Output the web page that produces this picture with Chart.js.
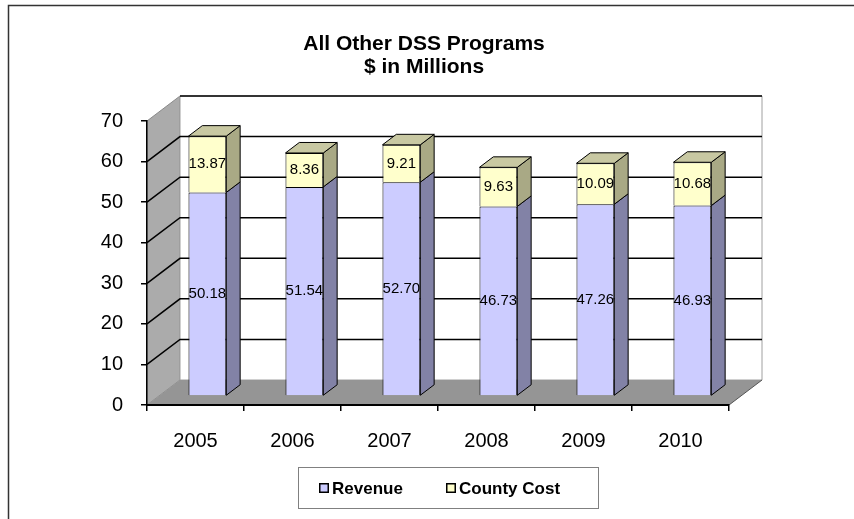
<!DOCTYPE html>
<html>
<head>
<meta charset="utf-8">
<script src="https://cdn.jsdelivr.net/npm/chart.js@4/dist/chart.umd.min.js"></script>
<style>
  html, body { margin: 0; padding: 0; background: #fff; }
  #wrap { width: 854px; height: 519px; }
</style>
</head>
<body>
<div id="wrap"><canvas id="c" width="854" height="519"></canvas></div>
<script>
// Data ($ in millions)
const years = ['2005', '2006', '2007', '2008', '2009', '2010'];
const revenue = [50.18, 51.54, 52.70, 46.73, 47.26, 46.93];
const countyCost = [13.87, 8.36, 9.21, 9.63, 10.09, 10.68];
const seriesNames = ['Revenue', 'County Cost'];
const yTicks = { min: 0, max: 70, step: 10 };

// Colours for the faces of the 3D columns
const frontColors = ['#CCCCFF', '#FFFFCC'];
const sideColors = ['#8282A6', '#A9A985'];
const topColor = '#C8C8A2';

// Depth of the 3D box (offset of the back wall from the front plane)
const DX = 33, DY = -25;
// Where the columns sit within that depth (fractions)
const BAR_FRONT = 0.36, BAR_BACK = 0.78;
const FX = DX * BAR_FRONT, FY = DY * BAR_FRONT;
const BX = DX * (BAR_BACK - BAR_FRONT), BY = DY * (BAR_BACK - BAR_FRONT);

const FONT = '"Liberation Sans", Arial, sans-serif';

function poly(ctx, pts) {
  ctx.beginPath();
  ctx.moveTo(pts[0][0], pts[0][1]);
  for (let i = 1; i < pts.length; i++) ctx.lineTo(pts[i][0], pts[i][1]);
  ctx.closePath();
}

const box3d = {
  id: 'box3d',
  beforeDraw(chart) {
    const { ctx, chartArea: a, scales: { y } } = chart;
    ctx.save();
    ctx.fillStyle = '#fff';
    ctx.fillRect(0, 0, chart.width, chart.height);

    // chart frame
    ctx.strokeStyle = '#333';
    ctx.lineWidth = 1.5;
    ctx.beginPath();
    ctx.moveTo(8.5, chart.height);
    ctx.lineTo(8.5, 5.5);
    ctx.lineTo(chart.width, 5.5);
    ctx.stroke();

    // title
    ctx.fillStyle = '#000';
    ctx.font = 'bold 21px ' + FONT;
    ctx.textAlign = 'center';
    ctx.textBaseline = 'middle';
    ctx.fillText('All Other DSS Programs', 424, 44);
    ctx.fillText('$ in Millions', 424, 67);

    // left side wall
    ctx.fillStyle = '#ABABAB';
    ctx.strokeStyle = '#8A8A8A';
    ctx.lineWidth = 1;
    poly(ctx, [[a.left, a.top], [a.left + DX, a.top + DY], [a.left + DX, a.bottom + DY], [a.left, a.bottom]]);
    ctx.fill();
    ctx.stroke();

    // back wall
    ctx.fillStyle = '#fff';
    ctx.strokeStyle = '#A0A0A0';
    poly(ctx, [[a.left + DX, a.top + DY], [a.right + DX, a.top + DY], [a.right + DX, a.bottom + DY], [a.left + DX, a.bottom + DY]]);
    ctx.fill();
    ctx.stroke();

    // floor
    ctx.fillStyle = '#959595';
    poly(ctx, [[a.left, a.bottom], [a.right, a.bottom], [a.right + DX, a.bottom + DY], [a.left + DX, a.bottom + DY]]);
    ctx.fill();
    ctx.strokeStyle = '#555';
    ctx.beginPath();
    ctx.moveTo(a.right, a.bottom);
    ctx.lineTo(a.right + DX, a.bottom + DY);
    ctx.stroke();

    // gridlines on the side and back walls
    ctx.strokeStyle = '#000';
    ctx.lineWidth = 1.5;
    for (let v = yTicks.min + yTicks.step; v <= yTicks.max; v += yTicks.step) {
      const py = y.getPixelForValue(v);
      ctx.beginPath();
      if (v < yTicks.max) {
        ctx.moveTo(a.left, py);
        ctx.lineTo(a.left + DX, py + DY);
      } else {
        ctx.moveTo(a.left + DX, py + DY);
      }
      ctx.lineTo(a.right + DX, py + DY);
      ctx.stroke();
    }
    ctx.restore();
  },
  beforeDatasetsDraw(chart) {
    chart.ctx.save();
    chart.ctx.translate(FX, FY);
  },
  afterDatasetsDraw(chart) {
    const ctx = chart.ctx;
    ctx.restore();
    ctx.save();
    ctx.lineWidth = 1;
    ctx.strokeStyle = '#000';
    const n = chart.data.datasets.length;
    for (let d = 0; d < n; d++) {
      const meta = chart.getDatasetMeta(d);
      meta.data.forEach((el) => {
        const p = el.getProps(['x', 'y', 'base', 'width'], true);
        const l = p.x - p.width / 2 + FX, r = p.x + p.width / 2 + FX;
        const t = Math.min(p.y, p.base) + FY, b = Math.max(p.y, p.base) + FY;
        // right side face
        ctx.fillStyle = sideColors[d];
        poly(ctx, [[r, t], [r + BX, t + BY], [r + BX, b + BY], [r, b]]);
        ctx.fill();
        ctx.stroke();
        // top face on the top segment
        if (d === n - 1) {
          ctx.fillStyle = topColor;
          poly(ctx, [[l, t], [l + BX, t + BY], [r + BX, t + BY], [r, t]]);
          ctx.fill();
          ctx.stroke();
        }
      });
    }
    // value labels
    ctx.fillStyle = '#000';
    ctx.font = '15px ' + FONT;
    ctx.textAlign = 'center';
    ctx.textBaseline = 'middle';
    for (let d = 0; d < n; d++) {
      const meta = chart.getDatasetMeta(d);
      const vals = chart.data.datasets[d].data;
      meta.data.forEach((el, i) => {
        const p = el.getProps(['x', 'y', 'base'], true);
        ctx.fillText(vals[i].toFixed(2), p.x + FX, (p.y + p.base) / 2 + FY);
      });
    }
    ctx.restore();
  },
  afterDraw(chart) {
    const ctx = chart.ctx;
    ctx.save();
    // legend
    ctx.strokeStyle = '#808080';
    ctx.lineWidth = 1;
    ctx.strokeRect(298.5, 467.5, 300, 41);
    const items = [{ x: 319, tx: 332 }, { x: 446, tx: 459 }];
    ctx.font = 'bold 17px ' + FONT;
    ctx.textAlign = 'left';
    ctx.textBaseline = 'middle';
    items.forEach((it, i) => {
      ctx.fillStyle = frontColors[i];
      ctx.fillRect(it.x, 483, 10, 10);
      ctx.strokeStyle = '#000';
      ctx.lineWidth = 1.5;
      ctx.strokeRect(it.x + 0.75, 483.75, 8.5, 8.5);
      ctx.fillStyle = '#000';
      ctx.fillText(seriesNames[i], it.tx, 489);
    });
    ctx.restore();
  }
};

new Chart(document.getElementById('c'), {
  type: 'bar',
  data: {
    labels: years,
    datasets: [
      { label: seriesNames[0], data: revenue, backgroundColor: frontColors[0], borderColor: '#000', borderWidth: 1, clip: false },
      { label: seriesNames[1], data: countyCost, backgroundColor: frontColors[1], borderColor: '#000', borderWidth: 1, clip: false }
    ]
  },
  options: {
    responsive: false,
    animation: false,
    devicePixelRatio: 1,
    layout: { padding: { top: 121, right: 125, bottom: 0, left: 0 } },
    plugins: { legend: { display: false }, title: { display: false }, tooltip: { enabled: false } },
    datasets: { bar: { barPercentage: 0.39, categoryPercentage: 1 } },
    scales: {
      x: {
        stacked: true,
        afterFit: (s) => { s.height = 114; },
        grid: { offset: true, drawOnChartArea: false, drawTicks: true, tickLength: 6, color: '#000', lineWidth: 1.5 },
        border: { display: true, color: '#000', width: 2 },
        ticks: { color: '#000', font: { family: FONT, size: 20 }, padding: 18 }
      },
      y: {
        stacked: true,
        min: yTicks.min,
        max: yTicks.max,
        afterFit: (s) => { s.width = 147; },
        grid: { drawOnChartArea: false, drawTicks: true, tickLength: 6, color: '#000', lineWidth: 1.5 },
        border: { display: true, color: '#000', width: 1.5 },
        ticks: { stepSize: yTicks.step, color: '#000', font: { family: FONT, size: 20 }, padding: 18 }
      }
    }
  },
  plugins: [box3d]
});
</script>
</body>
</html>
